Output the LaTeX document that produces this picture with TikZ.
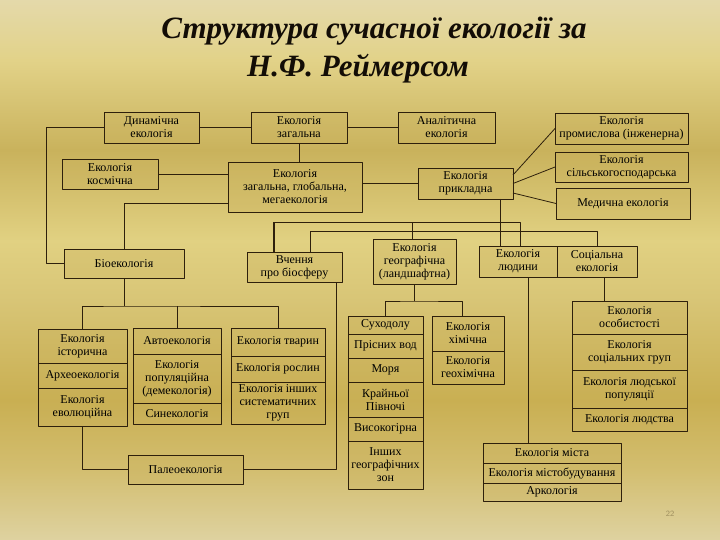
\documentclass[tikz,border=0pt]{standalone}
\usepackage{fontspec}
\setmainfont{Liberation Serif}
\definecolor{ink}{HTML}{2E200C}
\definecolor{boxfill}{HTML}{C9B05A}
\definecolor{pagenum}{HTML}{9C8C5C}
\definecolor{bgA}{HTML}{E4D9AA}
\definecolor{bgB}{HTML}{E2D288}
\definecolor{bgC}{HTML}{C9B25C}
\definecolor{bgD}{HTML}{E1D182}
\definecolor{bgE}{HTML}{D8C576}
\definecolor{bgF}{HTML}{C9AF52}
\definecolor{bgG}{HTML}{D3BE70}
\definecolor{bgH}{HTML}{DED2A0}
\newcommand\boxfont{\fontsize{12}{13}\selectfont}
\tikzset{
  box/.style={draw=ink, line width=0.8pt, inner sep=0pt, outer sep=0pt, align=center,
    font=\boxfont, fill=boxfill, fill opacity=0.3, text opacity=1},
  link/.style={draw=ink, line width=0.8pt},
  title/.style={font=\fontsize{31}{31}\selectfont\bfseries\itshape, text=black!90!brown, anchor=base}
}
% box from its corners: name, x1, y1, x2, y2, text
\newcommand\bx[6]{\node[box, minimum width={(#4-(#2))*1pt}, minimum height={(#5-(#3))*1pt}]
  (#1) at ({(#2+#4)/2},{(#3+#5)/2}) {#6};}
\begin{document}
\begin{tikzpicture}[x=1pt, y=-1pt, line join=round]
\useasboundingbox (0,0) rectangle (720,540);
% background
\shade[top color=bgA, bottom color=bgB] (0,0) rectangle (720,61);
\shade[top color=bgB, bottom color=bgC] (0,60) rectangle (720,151);
\shade[top color=bgC, bottom color=bgD] (0,150) rectangle (720,241);
\shade[top color=bgD, bottom color=bgE] (0,240) rectangle (720,301);
\shade[top color=bgE, bottom color=bgF] (0,300) rectangle (720,401);
\shade[top color=bgF, bottom color=bgG] (0,400) rectangle (720,471);
\shade[top color=bgG, bottom color=bgH] (0,470) rectangle (720,540);

\node[title] (t1) at (374,39) {Структура сучасної екології за};
\node[title] (t2) at (358,77) {Н.Ф. Реймерсом};

% upper level
\bx{din}{104}{112}{199}{143}{Динамічна\\екологія}
\bx{zag}{251}{112}{347}{143}{Екологія\\загальна}
\bx{anal}{398}{112}{495}{143}{Аналітична\\екологія}
\bx{prom}{555}{113}{688}{144}{Екологія\\промислова (інженерна)}
\bx{kosm}{62}{159}{158}{189}{Екологія\\космічна}
\bx{glob}{228}{162}{362}{212}{Екологія\\загальна, глобальна,\\мегаекологія}
\bx{prykl}{418}{168}{513}{199}{Екологія\\прикладна}
\bx{silsk}{555}{152}{688}{182}{Екологія\\сільськогосподарська}
\bx{med}{556}{188}{690}{219}{Медична екологія}
\bx{bio}{64}{249}{184}{278}{Біоекологія}
\bx{vchen}{247}{252}{342}{282}{Вчення\\про біосферу}
\bx{geog}{373}{239}{456}{284}{Екологія\\географічна\\(ландшафтна)}
\bx{lyud}{479}{246}{557}{277}{Екологія\\людини}
\bx{soc}{557}{246}{637}{277}{Соціальна\\екологія}

% stacks
\bx{hist}{38}{329}{127}{363}{Екологія\\історична}
\bx{arch}{38}{363}{127}{388}{Археоекологія}
\bx{evol}{38}{388}{127}{426}{Екологія\\еволюційна}
\bx{avto}{133}{328}{221}{354}{Автоекологія}
\bx{popul}{133}{354}{221}{403}{Екологія\\популяційна\\(демекологія)}
\bx{syne}{133}{403}{221}{424}{Синекологія}
\bx{tvar}{231}{328}{325}{356}{Екологія тварин}
\bx{rosl}{231}{356}{325}{382}{Екологія рослин}
\bx{inshi}{231}{382}{325}{424}{Екологія інших\\систематичних\\груп}
\bx{sukh}{348}{316}{423}{334}{Суходолу}
\bx{pris}{348}{334}{423}{358}{Прісних вод}
\bx{more}{348}{358}{423}{382}{Моря}
\bx{kraj}{348}{382}{423}{417}{Крайньої\\Півночі}
\bx{vysok}{348}{417}{423}{441}{Високогірна}
\bx{zon}{348}{441}{423}{489}{Інших\\географічних\\зон}
\bx{khim}{432}{316}{504}{351}{Екологія\\хімічна}
\bx{geokh}{432}{351}{504}{384}{Екологія\\геохімічна}
\bx{osob}{572}{301}{687}{334}{Екологія\\особистості}
\bx{grup}{572}{334}{687}{370}{Екологія\\соціальних груп}
\bx{popl}{572}{370}{687}{408}{Екологія людської\\популяції}
\bx{ludst}{572}{408}{687}{431}{Екологія людства}
\bx{misto}{483}{443}{621}{463}{Екологія міста}
\bx{budiv}{483}{463}{621}{483}{Екологія містобудування}
\bx{arko}{483}{483}{621}{501}{Аркологія}
\bx{paleo}{128}{455}{243}{484}{Палеоекологія}

% connectors
\draw[link] (din.west) -- ++(-58,0) |- (bio.west);
\draw[link] (din.east) -- (zag.west) (zag.east) -- (anal.west);
\draw[link] (zag.south) -- (zag.south |- glob.north);
\draw[link] (kosm.east) -- (kosm.east -| glob.west);
\draw[link] ([yshift=9pt]glob.south west) -| (bio.north);
\draw[link] (prykl.west -| glob.east) -- (prykl.west);
\draw[link] ([yshift=8.5pt]prykl.east) -- (prom.west);
\draw[link] (prykl.east) -- (silsk.west);
\draw[link] ([yshift=-9.5pt]prykl.east) -- (med.west);
\draw[link] ([xshift=34.5pt]prykl.south) -- ([xshift=34.5pt]prykl.south |- lyud.north);
\draw[link] ([xshift=27pt]vchen.north west) -- ++(0,-30) -| ([xshift=41pt]lyud.north west);
\draw[link, line width=1.8pt] ([xshift=27pt]vchen.north west) -- ++(0,-30);
\draw[link] ([xshift=-2.5pt]geog.north) -- ++(0,-17);
\draw[link] ([xshift=63pt]vchen.north west) -- ++(0,-21) -| (soc.north);
\draw[link] (paleo.east) -| ([xshift=-6pt]vchen.south east);
\draw[link] (bio.south) -- ++(0,28) coordinate (bj);
\draw[link] (hist.north) |- (bj) -| (tvar.north) (avto.north) -- (avto.north |- bj);
\draw[link] (evol.south) |- (paleo.west);
\draw[link] (geog.south) -- ++(0,17) coordinate (gj);
\draw[link] (sukh.north) |- (gj) -| ([xshift=-6pt]khim.north);
\draw[link] ([xshift=10pt]lyud.south) -- ([xshift=10pt]lyud.south |- misto.north);
\draw[link] ([xshift=7pt]soc.south) -- ([xshift=7pt]soc.south |- osob.north);

\node[font=\sffamily\fontsize{8}{8}\selectfont, text=pagenum] (pg) at (670,514) {22};
\end{tikzpicture}
\end{document}
